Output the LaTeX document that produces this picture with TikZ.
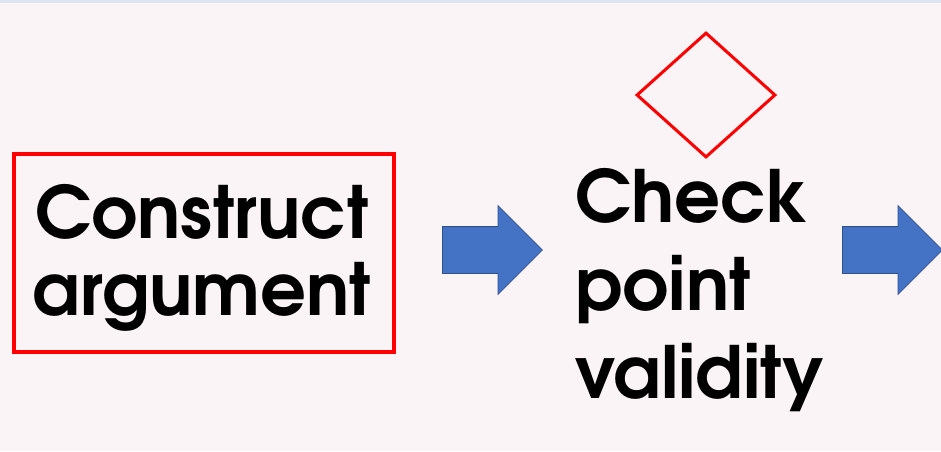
\documentclass[tikz,border=0pt]{standalone}
\usepackage{fontspec}
\setmainfont{texgyreadventor}[Extension=.otf, UprightFont=*-regular, BoldFont=*-bold]
\usetikzlibrary{positioning,shapes.geometric,shapes.arrows}

\definecolor{bgpink}{RGB}{250,244,246}
\definecolor{topband}{RGB}{221,229,242}
\definecolor{arrowblue}{RGB}{68,114,196}
\definecolor{arrowedge}{RGB}{47,82,143}

\begin{document}
\begin{tikzpicture}[x=1pt, y=-1pt,
	stepbox/.style={draw=red, line width=3.5pt, minimum width=380pt, minimum height=198pt, inner sep=0pt},
	decision/.style={diamond, draw=red, line width=3pt, minimum width=139pt, minimum height=125pt, inner sep=0pt},
	blockarrow/.style={single arrow, fill=arrowblue, draw=arrowedge, line width=0.8pt, minimum height=100pt, single arrow head extend=21pt, inner sep=0pt, anchor=tail},
	bigtext/.style={font=\bfseries\fontsize{72}{77}\selectfont, inner sep=0pt},]

% page and the thin band along the top
\fill[bgpink] (0,0) rectangle (941,451);
\fill[topband] (0,0) rectangle (941,3);
\useasboundingbox (0,0) rectangle (941,451);
\clip (0,0) rectangle (941,451);

\node[stepbox] (construct) at (204,253) {};
\node[bigtext, align=center, anchor=base] (argument) at (202,315) {Construct\\argument};
\node[blockarrow] (arrowone) at (442,250) {\rule{0pt}{46pt}};
\node[decision] (check) at (706,95) {};
\node[bigtext, font=\bfseries\fontsize{72}{88}\selectfont, align=left, anchor=base west] (validity) at (575,398) {Check\\point\\validity};
\node[blockarrow] (arrowtwo) at (842,250) {\rule{0pt}{46pt}};
\end{tikzpicture}
\end{document}
